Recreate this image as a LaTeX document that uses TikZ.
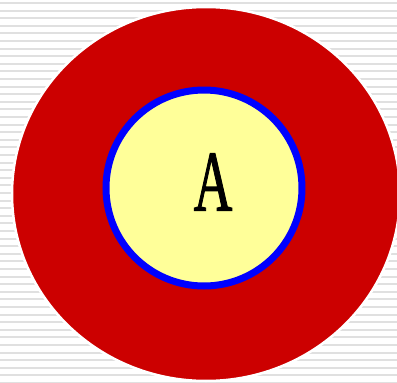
\documentclass[tikz,border=0pt]{standalone}
\usepackage{fontspec}
\newfontfamily\letra[FakeBold=1.5]{Liberation Serif}
\definecolor{rojo}{HTML}{CC0000}
\definecolor{amarillo}{HTML}{FFFF99}
\definecolor{rayas}{HTML}{E0E0E0}
\begin{document}
\begin{tikzpicture}[x=0.02cm, y=-0.02cm]
    % Marco
    \useasboundingbox (0,0) rectangle (397,383);
    \clip (0,0) rectangle (397,383);
    \fill[white] (0,0) rectangle (397,383);

    % Fondo rayado
    \foreach \k in {0,...,50}
        \fill[rayas] (0,{\k*7.6+2}) rectangle (397,{\k*7.6+4});

    % Circulo exterior
    \filldraw[fill=rojo, draw=white, line width=0.05cm] (206,194) ellipse [x radius=194, y radius=187];

    % Circulo interior
    \filldraw[fill=amarillo, draw=blue, line width=0.14cm] (204,188) circle [radius=98];

    % Letra
    \node[xscale=0.62, font=\letra\fontsize{49}{49}\selectfont] (letraA) at (213,182) {A};
\end{tikzpicture}
\end{document}
